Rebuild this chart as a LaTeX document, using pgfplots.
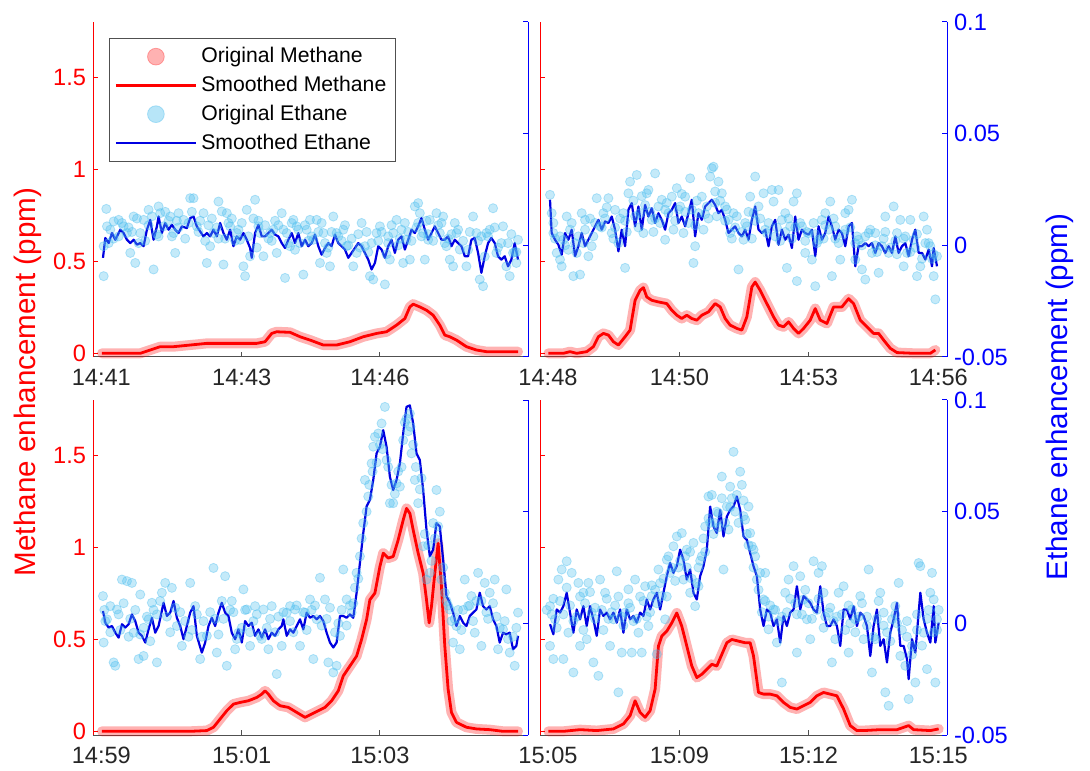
\documentclass[border=0pt]{standalone}
\usepackage{fontspec}
\setmainfont{Liberation Sans}
\usepackage{pgfplots}
\usepackage{pgfplotstable}
\pgfplotsset{compat=1.18}

\definecolor{ethc}{RGB}{77,190,238}
\definecolor{ethline}{RGB}{0,0,225}
\definecolor{axgray}{RGB}{80,80,80}
\newcommand\tickfont{\fontsize{11.8}{13}\selectfont}
\newcommand\labfont{\fontsize{14.8}{16}\selectfont}

% methane (ppm), smoothed; original points sit on the same curve
\pgfplotstableread{
t v
35 0.000
100 0.000
150 0.000
180 0.018
210 0.036
250 0.036
300 0.045
350 0.054
400 0.054
450 0.054
500 0.054
525 0.063
545 0.108
560 0.117
600 0.114
630 0.090
660 0.072
700 0.045
740 0.045
780 0.063
820 0.090
860 0.108
890 0.117
920 0.153
945 0.189
960 0.252
970 0.267
990 0.252
1010 0.234
1030 0.207
1050 0.153
1065 0.099
1080 0.090
1100 0.072
1130 0.036
1160 0.018
1190 0.009
1240 0.009
1285 0.009
}\mA
\pgfplotstableread{
t v
55 0.000
100 0.000
120 0.009
140 0.000
170 0.009
190 0.036
205 0.090
220 0.108
235 0.099
250 0.063
265 0.045
285 0.090
300 0.126
315 0.288
330 0.342
340 0.357
350 0.306
365 0.288
385 0.279
410 0.270
425 0.234
440 0.207
455 0.189
470 0.207
485 0.189
500 0.180
515 0.207
535 0.225
555 0.270
570 0.252
585 0.189
600 0.153
620 0.135
635 0.126
650 0.198
665 0.360
675 0.387
690 0.342
710 0.270
730 0.198
745 0.153
760 0.144
775 0.171
790 0.135
805 0.108
820 0.135
840 0.180
855 0.243
870 0.180
890 0.162
910 0.252
935 0.252
955 0.297
970 0.270
990 0.180
1010 0.144
1030 0.108
1045 0.108
1060 0.072
1080 0.027
1100 0.004
1150 0.000
1200 0.000
1215 0.018
}\mB
\pgfplotstableread{
t v
35 0.000
100 0.000
200 0.000
300 0.000
350 0.004
370 0.022
390 0.067
410 0.112
430 0.148
450 0.157
475 0.166
500 0.184
515 0.202
525 0.220
535 0.202
550 0.166
570 0.139
595 0.130
620 0.103
645 0.076
665 0.094
685 0.112
705 0.130
725 0.166
745 0.220
760 0.301
780 0.355
800 0.409
815 0.499
830 0.607
840 0.715
855 0.751
870 0.895
880 0.968
895 0.941
910 0.950
925 1.040
940 1.148
950 1.211
960 1.184
970 1.094
985 0.968
1000 0.859
1010 0.715
1018 0.589
1025 0.679
1035 0.859
1045 1.022
1055 0.787
1065 0.463
1075 0.229
1085 0.103
1100 0.049
1130 0.022
1160 0.013
1200 0.009
1240 0.000
1285 0.000
}\mC
\pgfplotstableread{
t v
55 0.000
100 0.000
150 0.009
200 0.004
250 0.013
280 0.040
300 0.085
315 0.166
330 0.103
345 0.076
360 0.112
375 0.229
385 0.463
395 0.517
410 0.544
425 0.589
440 0.643
455 0.571
470 0.463
485 0.355
500 0.292
515 0.310
530 0.337
545 0.364
560 0.355
575 0.418
590 0.481
605 0.499
625 0.490
645 0.481
660 0.481
670 0.409
685 0.211
700 0.202
720 0.202
740 0.193
760 0.157
780 0.130
800 0.121
820 0.139
840 0.157
860 0.193
880 0.211
900 0.202
920 0.193
940 0.121
960 0.031
980 0.004
1000 0.004
1050 0.009
1100 0.009
1135 0.031
1150 0.009
1200 0.004
1225 0.013
}\mD

% ethane (ppm), smoothed
\pgfplotstableread{
t v
38 -0.0056
45 0.0033
55 0.0010
65 0.0055
75 0.0025
90 0.0070
100 0.0055
110 0.0025
120 0.0010
130 0.0025
140 0.0003
150 0.0010
160 -0.0004
170 0.0070
180 0.0114
190 0.0025
200 0.0085
205 0.0129
215 0.0055
225 0.0100
235 0.0070
245 0.0092
255 0.0070
265 0.0055
275 0.0085
290 0.0077
300 0.0122
310 0.0129
320 0.0085
330 0.0062
340 0.0040
350 0.0055
360 0.0040
370 0.0070
380 0.0040
390 0.0100
400 0.0055
410 0.0025
420 0.0070
430 -0.0004
440 0.0040
450 0.0025
460 0.0055
470 0.0025
480 -0.0012
485 -0.0056
495 0.0055
505 0.0092
515 0.0040
525 0.0040
535 0.0055
545 0.0070
555 0.0048
565 0.0040
575 0.0010
585 -0.0012
595 0.0025
605 0.0055
615 0.0010
625 0.0055
635 -0.0004
645 0.0025
655 -0.0004
665 0.0010
675 0.0048
685 -0.0004
695 -0.0042
705 -0.0012
715 0.0010
725 -0.0004
735 0.0048
745 0.0010
755 -0.0004
765 -0.0019
775 -0.0056
785 -0.0034
795 -0.0012
805 0.0010
815 -0.0004
825 -0.0034
835 -0.0064
845 -0.0108
855 -0.0079
865 -0.0004
875 -0.0019
885 -0.0056
895 -0.0004
905 0.0025
915 -0.0034
925 0.0025
935 0.0040
945 -0.0019
955 0.0025
965 0.0070
975 0.0055
985 0.0085
995 0.0122
1005 0.0070
1015 0.0025
1025 0.0055
1035 0.0085
1045 0.0055
1055 0.0025
1065 0.0025
1075 0.0040
1085 -0.0004
1095 0.0025
1105 0.0010
1115 -0.0004
1125 -0.0049
1135 -0.0049
1145 0.0025
1155 0.0033
1165 -0.0034
1175 -0.0123
1185 -0.0049
1195 0.0010
1205 0.0033
1215 0.0010
1225 -0.0049
1235 -0.0064
1245 -0.0049
1255 -0.0094
1265 -0.0064
1275 0.0010
1285 -0.0064
}\eA
\pgfplotstableread{
t v
60 0.0204
65 0.0055
75 0.0025
85 0.0003
95 -0.0042
105 0.0055
115 0.0025
125 0.0070
135 -0.0049
145 -0.0004
155 0.0055
165 -0.0004
175 0.0025
185 0.0055
195 0.0085
205 0.0114
215 0.0070
225 0.0107
235 0.0100
245 0.0129
255 0.0070
265 -0.0027
275 0.0070
285 -0.0004
295 0.0159
305 0.0189
315 0.0085
325 0.0174
335 0.0070
345 0.0181
355 0.0129
365 0.0166
375 0.0100
385 0.0144
395 0.0114
405 0.0070
415 0.0144
425 0.0159
435 0.0189
445 0.0100
455 0.0129
465 0.0085
475 0.0144
485 0.0204
495 0.0040
505 0.0144
515 0.0114
525 0.0174
535 0.0189
545 0.0204
555 0.0181
565 0.0144
575 0.0159
585 0.0114
595 0.0055
605 0.0070
615 0.0085
625 0.0055
635 0.0040
645 0.0070
655 0.0025
665 0.0114
675 0.0174
685 0.0070
695 0.0055
705 0.0070
715 -0.0004
725 0.0085
735 0.0114
745 0.0003
755 0.0070
765 0.0025
775 0.0048
785 -0.0012
795 0.0129
805 0.0025
815 0.0070
825 0.0055
835 0.0048
845 0.0070
855 -0.0049
865 0.0085
875 0.0025
885 0.0055
895 0.0129
905 0.0085
915 0.0025
925 0.0070
935 0.0055
945 -0.0004
955 0.0085
965 0.0100
975 -0.0094
985 -0.0004
995 -0.0004
1005 0.0010
1015 -0.0004
1025 0.0010
1035 -0.0034
1045 0.0010
1055 -0.0004
1065 -0.0034
1075 -0.0004
1085 -0.0034
1095 0.0040
1105 -0.0034
1115 -0.0004
1125 0.0010
1135 -0.0049
1145 0.0025
1155 0.0070
1165 -0.0034
1175 -0.0034
1185 -0.0064
1195 -0.0019
1205 -0.0094
1210 -0.0012
1220 -0.0094
}\eB
\pgfplotstableread{
t v
38 0.0055
45 0.0003
55 -0.0019
65 -0.0012
75 -0.0042
85 -0.0064
95 -0.0004
105 -0.0019
115 -0.0004
125 0.0040
135 0.0010
145 -0.0042
155 -0.0056
165 -0.0086
175 -0.0027
185 0.0025
195 -0.0042
205 -0.0012
220 0.0092
230 0.0033
240 0.0048
250 0.0100
260 0.0025
270 -0.0012
280 -0.0071
290 -0.0012
300 0.0048
310 0.0077
320 -0.0056
335 -0.0131
345 -0.0086
355 -0.0012
365 0.0025
375 -0.0012
385 0.0048
395 0.0092
405 0.0048
415 0.0033
425 -0.0042
435 -0.0071
445 -0.0027
455 -0.0086
465 0.0010
475 -0.0012
485 0.0003
495 -0.0056
505 -0.0027
515 -0.0064
525 -0.0027
535 -0.0071
545 -0.0042
555 -0.0056
565 -0.0027
575 -0.0012
580 0.0018
590 -0.0056
600 -0.0027
610 -0.0042
620 -0.0012
630 0.0018
640 -0.0027
650 0.0048
660 0.0025
670 0.0033
680 0.0018
690 0.0033
700 0.0010
710 -0.0042
720 -0.0086
730 -0.0108
740 -0.0086
750 0.0033
760 0.0033
770 0.0025
780 0.0040
790 0.0025
800 0.0137
810 0.0270
820 0.0404
830 0.0523
840 0.0553
850 0.0642
860 0.0761
870 0.0791
880 0.0865
890 0.0791
900 0.0657
910 0.0597
920 0.0642
930 0.0716
940 0.0850
950 0.0969
960 0.0976
970 0.0895
980 0.0761
990 0.0731
1000 0.0597
1010 0.0419
1020 0.0300
1030 0.0330
1040 0.0449
1050 0.0434
1060 0.0285
1070 0.0122
1080 0.0092
1090 0.0048
1100 -0.0012
1110 0.0033
1120 0.0003
1130 -0.0012
1140 0.0033
1150 0.0048
1160 0.0062
1170 0.0137
1180 0.0077
1190 0.0062
1200 0.0077
1210 0.0018
1220 -0.0012
1230 -0.0086
1240 -0.0042
1250 -0.0049
1260 -0.0042
1270 -0.0116
1280 -0.0101
1285 -0.0056
}\eC
\pgfplotstableread{
t v
60 -0.0004
70 -0.0049
80 0.0062
90 0.0048
100 0.0077
110 0.0137
120 0.0048
130 -0.0042
140 0.0062
150 0.0018
160 0.0077
170 -0.0012
180 0.0077
190 0.0018
200 -0.0056
210 0.0062
220 0.0033
230 0.0048
240 0.0018
250 0.0048
260 0.0003
270 0.0062
280 -0.0042
290 0.0062
300 0.0018
310 0.0033
320 0.0003
330 0.0048
340 0.0033
350 0.0107
360 0.0062
370 0.0107
380 0.0137
390 0.0062
400 0.0137
410 0.0211
420 0.0270
430 0.0226
440 0.0256
450 0.0330
460 0.0285
470 0.0196
480 0.0241
490 0.0137
500 0.0107
510 0.0211
520 0.0256
530 0.0330
540 0.0523
550 0.0434
560 0.0404
570 0.0508
580 0.0389
590 0.0478
600 0.0508
610 0.0523
620 0.0568
630 0.0508
640 0.0389
650 0.0374
660 0.0315
670 0.0256
680 0.0211
690 0.0062
700 -0.0012
710 0.0062
720 0.0048
730 -0.0012
740 0.0018
750 -0.0086
760 0.0033
770 -0.0012
780 0.0048
790 0.0062
800 0.0166
810 0.0062
820 0.0122
830 0.0107
840 0.0092
850 0.0062
860 0.0048
870 0.0166
880 0.0048
890 -0.0012
900 -0.0012
910 0.0018
920 -0.0012
930 -0.0101
940 0.0062
950 0.0062
960 0.0018
970 0.0077
980 -0.0012
990 0.0048
1000 0.0033
1010 -0.0012
1020 -0.0146
1030 -0.0012
1040 0.0062
1050 -0.0101
1060 -0.0071
1070 -0.0175
1080 -0.0042
1090 0.0018
1100 0.0092
1110 -0.0101
1120 -0.0101
1130 -0.0160
1135 -0.0250
1145 -0.0071
1155 -0.0131
1170 0.0137
1180 0.0018
1190 -0.0042
1200 -0.0086
1210 0.0077
1215 -0.0086
1225 0.0003
}\eD

% ethane (ppm), original samples
\pgfplotstableread{
t v
40 -0.0138
48 0.0163
40 -0.0004
60 0.0070
70 0.0107
85 0.0114
100 0.0085
110 0.0055
120 -0.0034
135 -0.0079
130 0.0129
150 0.0055
160 0.0114
175 0.0159
190 -0.0108
205 0.0174
210 0.0144
220 0.0085
240 0.0129
250 0.0055
255 -0.0034
265 0.0144
280 0.0114
300 0.0211
310 0.0211
320 0.0085
340 0.0144
350 -0.0079
360 -0.0004
370 0.0055
385 0.0196
395 0.0152
400 -0.0086
410 0.0144
420 0.0085
440 0.0055
450 0.0025
460 -0.0094
465 -0.0138
470 0.0159
480 -0.0049
495 0.0204
505 0.0085
510 0.0055
520 -0.0049
540 0.0055
550 0.0070
560 -0.0034
575 0.0144
585 -0.0146
590 0.0055
600 -0.0004
610 0.0114
620 0.0085
630 0.0010
640 -0.0131
650 0.0070
660 0.0114
670 0.0025
680 0.0114
690 -0.0079
700 0.0055
710 -0.0034
720 -0.0094
730 0.0129
740 0.0055
760 0.0070
770 -0.0004
790 -0.0094
800 -0.0034
815 0.0100
825 -0.0004
840 -0.0138
850 -0.0153
860 0.0055
870 0.0085
885 -0.0175
895 0.0010
900 -0.0064
910 0.0055
920 0.0114
935 0.0070
940 -0.0079
950 0.0025
960 -0.0064
975 0.0174
985 0.0189
990 0.0144
1000 0.0055
1005 -0.0064
1015 0.0025
1020 0.0114
1040 0.0144
1050 0.0055
1060 0.0129
1070 -0.0004
1080 -0.0064
1090 -0.0094
1100 0.0055
1110 -0.0019
1130 -0.0094
1150 0.0129
1160 0.0055
1170 -0.0153
1180 -0.0183
1190 0.0055
1200 0.0070
1210 0.0166
1220 -0.0034
1240 0.0085
1250 -0.0094
1260 -0.0138
1270 -0.0034
1280 -0.0079
1285 0.0025
55 0.0010
85 0.0040
115 0.0080
145 0.0010
175 0.0090
205 0.0040
235 0.0110
265 0.0080
295 0.0100
325 0.0060
355 0.0090
385 0.0030
415 0.0100
445 0.0070
475 0.0040
505 0.0110
535 0.0030
565 0.0090
595 0.0010
625 0.0070
655 0.0020
685 0.0060
715 -0.0010
745 0.0040
775 0.0000
805 0.0050
835 -0.0030
865 0.0020
895 0.0040
925 0.0000
955 0.0060
985 0.0100
1015 0.0050
1045 0.0090
1075 0.0030
1105 0.0070
1135 -0.0020
1165 0.0020
1195 0.0040
1225 -0.0010
1255 0.0010
1280 -0.0030
50 0.0085
70 0.0030
95 0.0100
125 0.0060
140 0.0120
165 0.0020
185 0.0130
200 0.0050
225 0.0150
245 0.0040
260 0.0110
285 0.0030
305 0.0150
330 0.0110
345 0.0020
365 0.0120
380 0.0080
405 0.0030
425 0.0120
435 0.0020
455 0.0100
490 0.0120
500 -0.0010
525 0.0090
545 0.0020
555 0.0110
580 0.0070
605 0.0100
615 -0.0020
645 0.0090
665 0.0040
695 0.0100
705 0.0010
725 0.0060
755 0.0020
765 0.0090
785 0.0030
810 -0.0010
830 0.0060
845 0.0010
875 0.0060
890 -0.0040
905 0.0090
930 0.0030
945 0.0100
965 0.0020
980 0.0080
995 0.0040
1010 0.0110
1030 0.0020
1055 0.0100
1065 0.0010
1085 0.0050
1095 0.0100
1120 0.0020
1140 0.0060
1175 0.0040
1185 -0.0050
1215 0.0080
1235 0.0010
1265 0.0050
1275 -0.0030
}\sA
\pgfplotstableread{
t v
60 0.0226
65 0.0144
70 0.0055
80 -0.0034
90 -0.0064
95 -0.0094
100 0.0025
110 0.0129
120 0.0070
130 -0.0138
140 -0.0034
150 -0.0131
155 0.0144
165 0.0114
175 -0.0049
185 -0.0004
200 0.0211
210 0.0085
220 0.0144
235 0.0211
245 0.0055
255 0.0159
265 0.0010
280 0.0144
285 -0.0101
295 0.0233
300 0.0285
320 0.0315
330 0.0144
340 0.0055
350 0.0233
355 0.0248
365 0.0114
375 0.0322
385 0.0174
395 0.0204
405 0.0025
415 0.0144
425 0.0218
440 0.0256
450 0.0174
460 0.0055
465 0.0218
480 0.0300
490 -0.0079
495 -0.0004
505 0.0144
515 0.0218
530 0.0174
540 0.0308
545 0.0345
550 0.0352
555 0.0241
565 0.0285
575 0.0233
585 0.0174
595 0.0114
600 0.0055
610 0.0144
625 -0.0108
640 0.0025
650 0.0085
660 0.0218
670 0.0144
675 0.0308
685 0.0174
700 0.0233
710 0.0055
725 0.0248
730 0.0196
745 0.0248
755 0.0114
765 0.0144
770 -0.0101
780 0.0085
790 0.0196
800 0.0233
800 -0.0160
815 0.0085
825 -0.0034
835 0.0055
845 -0.0064
855 -0.0183
865 0.0025
875 0.0114
885 0.0144
900 0.0196
905 -0.0138
915 0.0085
930 -0.0064
945 0.0144
955 0.0159
965 0.0204
975 -0.0064
985 0.0025
995 -0.0108
1005 -0.0153
1015 0.0055
1025 -0.0034
1035 0.0055
1045 -0.0123
1055 -0.0004
1065 0.0129
1075 -0.0034
1090 0.0174
1100 0.0055
1110 0.0114
1120 -0.0094
1130 -0.0034
1140 0.0114
1150 0.0025
1160 -0.0138
1170 -0.0094
1180 0.0129
1190 0.0070
1200 -0.0004
1210 -0.0138
1215 -0.0242
1220 -0.0049
75 0.0030
105 0.0000
135 0.0010
165 0.0070
195 0.0100
225 0.0120
255 0.0080
285 0.0110
315 0.0130
345 0.0180
375 0.0120
405 0.0160
435 0.0110
465 0.0150
495 0.0090
525 0.0140
555 0.0190
585 0.0110
615 0.0080
645 0.0100
675 0.0110
705 0.0070
735 0.0040
765 0.0060
795 0.0080
825 0.0020
855 0.0050
885 0.0090
915 0.0030
945 0.0070
975 0.0010
1005 0.0040
1035 0.0000
1065 0.0060
1095 0.0020
1125 0.0040
1155 -0.0010
1185 0.0010
1210 -0.0040
70 0.0100
90 0.0040
115 -0.0020
125 0.0100
145 0.0040
160 0.0010
180 0.0120
190 0.0040
215 0.0080
230 0.0170
250 0.0030
270 0.0120
290 0.0060
310 0.0200
325 0.0080
335 0.0220
360 0.0150
370 0.0060
390 0.0100
410 0.0190
430 0.0070
445 0.0160
455 0.0230
475 0.0100
485 0.0160
500 0.0200
520 0.0070
535 0.0120
560 0.0130
570 0.0200
590 0.0160
605 0.0030
620 0.0130
635 0.0060
655 0.0150
665 0.0030
690 0.0120
715 0.0100
740 0.0080
750 0.0020
775 0.0120
785 0.0030
810 0.0100
830 0.0060
850 0.0100
860 0.0010
880 0.0030
895 0.0070
910 0.0120
925 0.0010
940 0.0050
960 0.0080
980 0.0040
995 0.0000
1020 0.0070
1040 -0.0030
1060 0.0030
1080 -0.0010
1100 -0.0040
1120 0.0030
1140 -0.0030
1160 0.0050
1175 -0.0060
1195 0.0010
1205 -0.0060
}\sB
\pgfplotstableread{
t v
38 0.0122
40 -0.0086
50 0.0018
60 0.0077
70 -0.0175
75 -0.0190
80 0.0062
95 0.0196
110 0.0189
125 0.0181
130 -0.0042
145 -0.0160
150 0.0129
160 -0.0146
175 0.0018
185 0.0092
200 -0.0175
215 0.0137
225 0.0181
245 0.0159
260 -0.0012
275 -0.0101
300 0.0181
315 0.0077
330 -0.0160
350 -0.0056
370 0.0248
380 -0.0131
395 0.0100
405 0.0211
410 -0.0190
425 0.0100
435 -0.0116
445 -0.0042
460 0.0152
470 0.0062
480 -0.0101
495 0.0077
510 -0.0056
520 0.0062
535 -0.0116
545 0.0077
560 -0.0227
575 -0.0101
590 0.0048
600 0.0077
615 0.0062
630 -0.0101
645 0.0048
660 0.0107
670 -0.0160
680 0.0018
690 0.0204
705 0.0107
715 -0.0175
730 -0.0220
740 -0.0190
750 -0.0056
760 0.0241
770 0.0107
785 0.0048
800 0.0226
810 0.0300
820 0.0449
825 0.0642
835 0.0568
845 0.0716
850 0.0791
855 0.0835
865 0.0850
875 0.0895
885 0.0969
890 0.0731
900 0.0538
910 0.0538
920 0.0627
930 0.0612
940 0.0820
950 0.0917
960 0.0939
965 0.0761
975 0.0642
985 0.0538
1000 0.0345
1010 0.0196
1020 0.0226
1030 0.0449
1040 0.0597
1045 0.0434
1055 0.0196
1065 0.0137
1080 0.0062
1090 -0.0086
1100 -0.0012
1110 -0.0116
1125 0.0196
1135 0.0077
1145 0.0122
1155 -0.0042
1165 0.0226
1175 -0.0101
1185 0.0181
1200 0.0137
1215 0.0196
1225 -0.0116
1240 -0.0027
1250 0.0152
1260 -0.0131
1275 -0.0190
1285 0.0048
45 0.0010
90 -0.0030
120 0.0020
160 -0.0020
190 0.0060
230 0.0030
270 0.0050
305 -0.0030
340 0.0010
375 0.0020
420 0.0060
455 -0.0020
490 0.0010
530 -0.0020
565 0.0030
600 0.0010
640 0.0050
675 0.0080
710 0.0020
745 0.0000
780 0.0080
795 0.0160
815 0.0380
830 0.0500
860 0.0720
870 0.0800
895 0.0700
915 0.0580
935 0.0700
955 0.0860
970 0.0800
990 0.0600
1005 0.0400
1050 0.0500
1070 0.0100
1095 0.0020
1120 0.0060
1160 0.0100
1190 0.0050
1230 -0.0020
1270 -0.0060
42 0.0060
60 -0.0040
85 0.0040
100 0.0090
115 -0.0060
135 0.0060
150 -0.0050
170 0.0030
180 -0.0080
200 0.0040
210 0.0100
240 -0.0040
255 0.0070
285 0.0010
295 -0.0060
320 0.0040
335 -0.0060
360 0.0050
385 -0.0050
400 0.0020
430 0.0050
440 -0.0070
465 0.0060
480 -0.0040
500 0.0040
515 -0.0070
540 0.0020
555 -0.0040
580 0.0050
610 -0.0040
620 0.0080
650 -0.0030
665 0.0060
695 -0.0010
720 0.0070
735 -0.0040
755 0.0060
770 -0.0010
790 0.0090
805 0.0200
838 0.0620
848 0.0680
878 0.0780
905 0.0620
925 0.0680
945 0.0900
962 0.0880
978 0.0700
995 0.0650
1015 0.0350
1025 0.0280
1035 0.0380
1060 0.0250
1075 0.0080
1085 0.0010
1105 0.0060
1115 -0.0030
1140 0.0080
1150 0.0010
1175 0.0100
1195 0.0020
1210 0.0090
1220 0.0030
1245 0.0010
1255 -0.0070
1280 -0.0020
}\sC
\pgfplotstableread{
t v
60 0.0077
60 -0.0101
70 -0.0160
75 0.0018
85 0.0196
95 0.0241
100 -0.0160
110 0.0278
115 -0.0042
125 0.0226
130 -0.0220
145 0.0181
150 -0.0101
160 0.0137
170 -0.0071
175 0.0181
185 0.0048
190 -0.0175
205 -0.0235
210 0.0196
225 0.0137
240 -0.0101
250 0.0018
260 0.0233
265 -0.0309
275 -0.0131
285 0.0048
295 0.0152
305 -0.0131
315 0.0196
325 -0.0042
335 -0.0131
345 0.0166
355 -0.0012
365 0.0122
380 -0.0138
385 0.0241
395 0.0122
405 0.0018
410 0.0285
420 0.0226
430 0.0345
440 0.0389
455 0.0404
460 0.0196
470 0.0330
480 0.0137
490 0.0360
495 0.0077
505 0.0166
515 0.0300
525 0.0434
535 0.0568
545 0.0575
555 0.0449
565 0.0493
575 0.0657
580 0.0241
590 0.0523
600 0.0612
610 0.0768
620 0.0575
630 0.0679
635 0.0620
645 0.0464
655 0.0523
660 0.0404
665 0.0345
675 0.0300
680 0.0196
690 0.0226
700 0.0107
705 0.0226
715 -0.0027
730 0.0062
740 -0.0086
755 -0.0265
765 0.0137
775 0.0196
790 0.0256
800 -0.0131
810 0.0211
820 0.0107
830 0.0018
840 -0.0071
850 0.0278
865 0.0226
875 0.0256
880 0.0137
895 0.0048
905 -0.0175
915 -0.0071
925 0.0137
940 0.0166
955 -0.0131
965 0.0062
975 0.0018
990 0.0122
1000 -0.0071
1015 0.0241
1025 -0.0220
1035 -0.0071
1050 0.0137
1060 0.0048
1065 -0.0309
1075 -0.0369
1085 0.0018
1095 0.0077
1105 0.0181
1110 -0.0146
1125 -0.0190
1135 -0.0339
1145 -0.0101
1155 -0.0265
1165 0.0270
1170 0.0256
1180 -0.0042
1190 -0.0205
1200 0.0137
1205 0.0226
1210 0.0107
1215 -0.0265
1220 0.0018
65 0.0040
90 0.0100
120 0.0080
140 0.0030
165 0.0090
195 0.0020
215 0.0060
235 0.0020
255 0.0080
275 0.0030
300 0.0070
320 0.0020
340 0.0100
360 0.0050
375 0.0150
400 0.0200
415 0.0300
445 0.0250
465 0.0300
485 0.0200
505 0.0250
520 0.0380
540 0.0450
560 0.0500
585 0.0450
600 0.0520
615 0.0500
640 0.0550
650 0.0400
670 0.0250
695 0.0050
720 0.0080
745 0.0010
770 0.0050
795 0.0090
815 0.0040
835 0.0090
860 0.0060
885 0.0030
910 0.0010
935 0.0040
960 0.0000
985 0.0030
1010 -0.0010
1040 0.0020
1070 -0.0040
1100 0.0000
1130 -0.0060
1160 -0.0030
1190 0.0020
1220 -0.0030
50 0.0060
70 0.0110
80 -0.0020
100 0.0040
110 0.0160
130 0.0010
150 0.0120
160 -0.0030
180 0.0140
195 0.0070
220 -0.0030
230 0.0110
245 0.0050
265 0.0120
280 -0.0010
295 0.0090
310 0.0010
330 0.0120
350 0.0030
365 0.0170
380 0.0090
390 0.0180
410 0.0120
425 0.0250
435 0.0190
450 0.0280
470 0.0250
480 0.0320
500 0.0180
510 0.0280
525 0.0320
535 0.0470
550 0.0400
565 0.0430
575 0.0560
595 0.0420
605 0.0560
625 0.0450
640 0.0480
655 0.0350
670 0.0330
685 0.0150
705 0.0100
715 0.0030
735 0.0060
755 0.0030
780 0.0110
800 0.0040
825 0.0150
845 0.0020
865 0.0110
880 -0.0020
900 0.0070
920 0.0030
945 -0.0030
955 0.0080
975 -0.0040
995 0.0090
1010 0.0030
1030 -0.0060
1045 0.0100
1060 -0.0010
1080 -0.0080
1095 0.0040
1115 -0.0030
1130 0.0010
1145 -0.0140
1160 0.0040
1175 -0.0100
1195 0.0060
1210 -0.0040
1225 0.0060
}\sD

\pgfplotsset{
  common/.style={
    scale only axis, height=167.5pt, clip=false,
    tick align=inside, major tick length=2.5pt,
    scaled ticks=false,
  },
  meth/.style={
    common,
    ymin=-0.02, ymax=1.8,
    ytick={0,0.5,1,1.5},
    axis x line*=bottom, axis y line*=left,
    x axis line style={axgray, line width=0.5pt},
    y axis line style={red, line width=0.5pt},
    xtick style={axgray, line width=0.5pt},
    ytick style={red, line width=0.5pt},
    yticklabel style={text=red, font=\tickfont},
    xticklabel style={text=black!85, font=\tickfont, yshift=-2.5pt},
    extra x tick style={major tick length=0pt},
  },
  eth/.style={
    common,
    ymin=-0.05, ymax=0.1,
    ytick={-0.05,0,0.05,0.1},
    axis x line=none, axis y line*=right,
    y axis line style={blue, line width=0.5pt},
    ytick style={blue, line width=0.5pt},
    yticklabel style={text=blue, font=\tickfont},
  },
  leftcol/.style={width=217.5pt, xmin=8, xmax=1315},
  rightcol/.style={width=203.5pt, xmin=30, xmax=1250},
  halo/.style={forget plot, draw=red, draw opacity=0.3, line width=5pt, line join=round, line cap=round},
  mline/.style={forget plot, red, line width=1.4pt, line join=round},
  edots/.style={forget plot, only marks, mark=*, mark size=2.3pt,
    mark options={draw=ethc, fill=ethc, fill opacity=0.33, draw opacity=0.4}},
  eline/.style={forget plot, ethline, line width=1.1pt, line join=round},
}

\begin{document}
\begin{tikzpicture}
\path (0,0) rectangle (545pt,385pt);

% ---- top left
\begin{axis}[meth, leftcol, at={(46.5pt,206.5pt)}, anchor=south west,
  yticklabels={0,0.5,1,1.5},
  xtick={455,870}, xticklabels={14:43,14:46},
  extra x ticks={33}, extra x tick labels={14:41}]
\addplot[halo] table[x=t,y=v] {\mA};
\addplot[mline] table[x=t,y=v] {\mA};
\end{axis}
\begin{axis}[eth, leftcol, at={(46.5pt,206.5pt)}, anchor=south west,
  yticklabels={},
  legend style={at={(axis description cs:0.037,0.952)}, anchor=north west,
    draw=axgray, fill=white, font=\fontsize{10.6}{12}\selectfont,
    row sep=1.2pt, inner sep=2.5pt, cells={anchor=west}},
  legend image code/.code={\draw[mark repeat=2,mark phase=2,#1] plot coordinates {(0pt,0pt) (20pt,0pt) (40pt,0pt)};}]
\addplot[edots] table[x=t,y=v] {\sA};
\addplot[eline] table[x=t,y=v] {\eA};
\addlegendimage{only marks, mark=*, mark size=4.2pt, mark options={draw=red, fill=red, opacity=0.3}}
\addlegendentry{Original Methane}
\addlegendimage{red, line width=1.4pt}
\addlegendentry{Smoothed Methane}
\addlegendimage{only marks, mark=*, mark size=4.2pt, mark options={draw=ethc, fill=ethc, opacity=0.4}}
\addlegendentry{Original Ethane}
\addlegendimage{ethline, line width=1.1pt}
\addlegendentry{Smoothed Ethane}
\end{axis}

% ---- top right
\begin{axis}[meth, rightcol, at={(270pt,206.5pt)}, anchor=south west,
  yticklabels={},
  xtick={448,835}, xticklabels={14:50,14:53},
  extra x ticks={54,1224}, extra x tick labels={14:48,14:56}]
\addplot[halo] table[x=t,y=v] {\mB};
\addplot[mline] table[x=t,y=v] {\mB};
\end{axis}
\begin{axis}[eth, rightcol, at={(270pt,206.5pt)}, anchor=south west,
  yticklabels={-0.05,0,0.05,0.1}]
\addplot[edots] table[x=t,y=v] {\sB};
\addplot[eline] table[x=t,y=v] {\eB};
\end{axis}

% ---- bottom left
\begin{axis}[meth, leftcol, at={(46.5pt,17.5pt)}, anchor=south west,
  yticklabels={0,0.5,1,1.5},
  xtick={455,870}, xticklabels={15:01,15:03},
  extra x ticks={33}, extra x tick labels={14:59}]
\addplot[halo] table[x=t,y=v] {\mC};
\addplot[mline] table[x=t,y=v] {\mC};
\end{axis}
\begin{axis}[eth, leftcol, at={(46.5pt,17.5pt)}, anchor=south west,
  yticklabels={}]
\addplot[edots] table[x=t,y=v] {\sC};
\addplot[eline] table[x=t,y=v] {\eC};
\end{axis}

% ---- bottom right
\begin{axis}[meth, rightcol, at={(270pt,17.5pt)}, anchor=south west,
  yticklabels={},
  xtick={448,835}, xticklabels={15:09,15:12},
  extra x ticks={54,1224}, extra x tick labels={15:05,15:15}]
\addplot[halo] table[x=t,y=v] {\mD};
\addplot[mline] table[x=t,y=v] {\mD};
\end{axis}
\begin{axis}[eth, rightcol, at={(270pt,17.5pt)}, anchor=south west,
  yticklabels={-0.05,0,0.05,0.1}]
\addplot[edots] table[x=t,y=v] {\sD};
\addplot[eline] table[x=t,y=v] {\eD};
\end{axis}

\node[rotate=90, text=red, font=\labfont] at (14pt,194pt) {Methane enhancement (ppm)};
\node[rotate=90, text=blue, font=\labfont] at (530pt,186.5pt) {Ethane enhancement (ppm)};
\end{tikzpicture}
\end{document}
